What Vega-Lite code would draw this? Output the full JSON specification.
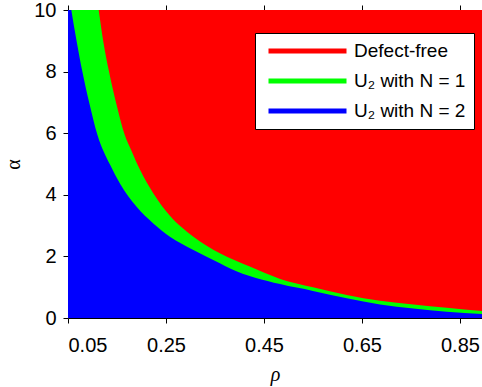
{
  "$schema": "https://vega.github.io/schema/vega-lite/v6.json",
  "width": 414,
  "height": 308,
  "autosize": {"type": "none"},
  "padding": {"left": 68, "top": 10, "right": 0, "bottom": 69},
  "background": "white",
  "config": {
    "view": {"stroke": null},
    "font": "Liberation Sans",
    "axis": {
      "labelFont": "Liberation Sans",
      "labelFontSize": 20,
      "labelColor": "black",
      "tickColor": "black",
      "domainColor": "black",
      "tickSize": 5,
      "grid": false,
      "zindex": 1,
      "titleFont": "Liberation Serif",
      "titleFontSize": 20,
      "titleFontWeight": "normal",
      "titleColor": "black"
    }
  },
  "datasets": {
    "regions": [
      {"region": "Defect-free", "rho": 0.05, "alpha": 10},
      {"region": "Defect-free", "rho": 0.895, "alpha": 10},

      {"region": "U₂ with N = 1", "rho": 0.05, "alpha": 18},
      {"region": "U₂ with N = 1", "rho": 0.075, "alpha": 14.5},
      {"region": "U₂ with N = 1", "rho": 0.095, "alpha": 12},
      {"region": "U₂ with N = 1", "rho": 0.1126, "alpha": 10},
      {"region": "U₂ with N = 1", "rho": 0.122, "alpha": 8.98},
      {"region": "U₂ with N = 1", "rho": 0.1337, "alpha": 8.0},
      {"region": "U₂ with N = 1", "rho": 0.149, "alpha": 6.93},
      {"region": "U₂ with N = 1", "rho": 0.1657, "alpha": 5.95},
      {"region": "U₂ with N = 1", "rho": 0.179, "alpha": 5.45},
      {"region": "U₂ with N = 1", "rho": 0.197, "alpha": 4.81},
      {"region": "U₂ with N = 1", "rho": 0.224, "alpha": 4.05},
      {"region": "U₂ with N = 1", "rho": 0.258, "alpha": 3.32},
      {"region": "U₂ with N = 1", "rho": 0.306, "alpha": 2.64},
      {"region": "U₂ with N = 1", "rho": 0.36, "alpha": 2.10},
      {"region": "U₂ with N = 1", "rho": 0.421, "alpha": 1.67},
      {"region": "U₂ with N = 1", "rho": 0.483, "alpha": 1.27},
      {"region": "U₂ with N = 1", "rho": 0.55, "alpha": 1.0},
      {"region": "U₂ with N = 1", "rho": 0.619, "alpha": 0.75},
      {"region": "U₂ with N = 1", "rho": 0.687, "alpha": 0.56},
      {"region": "U₂ with N = 1", "rho": 0.755, "alpha": 0.44},
      {"region": "U₂ with N = 1", "rho": 0.823, "alpha": 0.335},
      {"region": "U₂ with N = 1", "rho": 0.895, "alpha": 0.23},

      {"region": "U₂ with N = 2", "rho": 0.05, "alpha": 10.7},
      {"region": "U₂ with N = 2", "rho": 0.0568, "alpha": 10},
      {"region": "U₂ with N = 2", "rho": 0.0677, "alpha": 8.98},
      {"region": "U₂ with N = 2", "rho": 0.0793, "alpha": 8.0},
      {"region": "U₂ with N = 2", "rho": 0.0942, "alpha": 6.93},
      {"region": "U₂ with N = 2", "rho": 0.110, "alpha": 5.95},
      {"region": "U₂ with N = 2", "rho": 0.1357, "alpha": 4.98},
      {"region": "U₂ with N = 2", "rho": 0.156, "alpha": 4.37},
      {"region": "U₂ with N = 2", "rho": 0.190, "alpha": 3.61},
      {"region": "U₂ with N = 2", "rho": 0.224, "alpha": 3.07},
      {"region": "U₂ with N = 2", "rho": 0.258, "alpha": 2.64},
      {"region": "U₂ with N = 2", "rho": 0.306, "alpha": 2.21},
      {"region": "U₂ with N = 2", "rho": 0.36, "alpha": 1.78},
      {"region": "U₂ with N = 2", "rho": 0.381, "alpha": 1.61},
      {"region": "U₂ with N = 2", "rho": 0.483, "alpha": 1.10},
      {"region": "U₂ with N = 2", "rho": 0.55, "alpha": 0.88},
      {"region": "U₂ with N = 2", "rho": 0.619, "alpha": 0.64},
      {"region": "U₂ with N = 2", "rho": 0.687, "alpha": 0.44},
      {"region": "U₂ with N = 2", "rho": 0.755, "alpha": 0.31},
      {"region": "U₂ with N = 2", "rho": 0.823, "alpha": 0.205},
      {"region": "U₂ with N = 2", "rho": 0.895, "alpha": 0.13}
    ]
  },
  "data": {"name": "regions"},
  "encoding": {
    "y": {
      "field": "alpha",
      "type": "quantitative",
      "scale": {"domain": [0, 10], "nice": false},
      "axis": {
        "title": "α",
        "values": [0, 2, 4, 6, 8, 10],
        "domain": false,
        "labelPadding": 7,
        "titlePadding": 10
      }
    },
    "color": {
      "field": "region",
      "type": "nominal",
      "scale": {
        "domain": ["Defect-free", "U₂ with N = 1", "U₂ with N = 2"],
        "range": ["#ff0000", "#00ff00", "#0000ff"]
      },
      "legend": {
        "title": null,
        "orient": "none",
        "legendX": 187,
        "legendY": 23,
        "fillColor": "white",
        "strokeColor": "black",
        "padding": 8,
        "rowPadding": 10,
        "clipHeight": 20,
        "symbolType": "stroke",
        "symbolSize": 6084,
        "symbolStrokeWidth": 5,
        "symbolOffset": 3,
        "labelOffset": 5,
        "labelFont": "Liberation Sans",
        "labelFontSize": 19,
        "labelColor": "black",
        "labelLimit": 300,
        "zindex": 2,
        "encode": {
          "symbols": {
            "update": {
              "stroke": {"scale": "color", "field": "value"},
              "strokeWidth": {"value": 5}
            }
          }
        }
      }
    }
  },
  "layer": [
    {
      "transform": [{"filter": "datum.region === 'Defect-free'"}],
      "mark": {"type": "area", "clip": true},
      "encoding": {
        "x": {
          "field": "rho",
          "type": "quantitative",
          "scale": {"domain": [0.05, 0.895], "nice": false, "zero": false},
          "axis": {
            "orient": "top",
            "values": [0.05, 0.25, 0.45, 0.65, 0.85],
            "labels": false,
            "title": null,
            "domain": false
          }
        }
      }
    },
    {
      "transform": [{"filter": "datum.region === 'U₂ with N = 1'"}],
      "mark": {"type": "area", "clip": true, "interpolate": "monotone"},
      "encoding": {
        "x": {
          "field": "rho",
          "type": "quantitative",
          "scale": {"domain": [0.05, 0.895], "nice": false, "zero": false},
          "axis": {
            "orient": "bottom",
            "values": [0.05, 0.25, 0.45, 0.65, 0.85],
            "format": ".2f",
            "title": "ρ",
            "titleFontStyle": "italic",
            "labelPadding": 12,
            "titlePadding": 9
          }
        }
      }
    },
    {
      "transform": [{"filter": "datum.region === 'U₂ with N = 2'"}],
      "mark": {"type": "area", "clip": true, "interpolate": "monotone"},
      "encoding": {
        "x": {
          "field": "rho",
          "type": "quantitative",
          "scale": {"domain": [0.05, 0.895], "nice": false, "zero": false},
          "axis": null
        }
      }
    }
  ],
  "resolve": {"axis": {"x": "independent"}}
}
